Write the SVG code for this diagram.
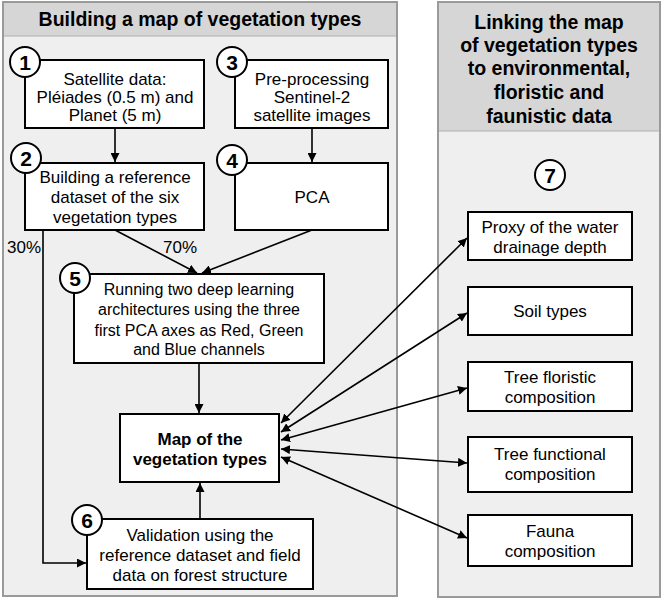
<svg xmlns="http://www.w3.org/2000/svg" width="662" height="599" viewBox="0 0 662 599">
<defs>
<style>
.panel{fill:#efefef;stroke:#9a9a9a;stroke-width:2}
.head{fill:#d6d6d6}
.box{fill:#fff;stroke:#000;stroke-width:2}
.num{fill:#fff;stroke:#000;stroke-width:2}
.t{font-family:"Liberation Sans",Arial,sans-serif;font-size:17px;fill:#000;text-anchor:middle}
.s{font-size:16px}
.b{font-weight:bold}
.h{font-family:"Liberation Sans",Arial,sans-serif;font-weight:bold;fill:#000;text-anchor:middle}
.n{font-family:"Liberation Sans",Arial,sans-serif;font-weight:bold;font-size:21px;fill:#000;text-anchor:middle}
.c{fill:none;stroke:#000;stroke-width:1.6}
</style>
<marker id="ah" viewBox="0 0 10 10" refX="10" refY="5" markerWidth="9" markerHeight="9" markerUnits="userSpaceOnUse" orient="auto-start-reverse">
<path d="M0,0 L10,5 L0,10 z" fill="#000"/>
</marker>
</defs>
<rect width="662" height="599" fill="#fff"/>
<g id="panel-left">
<rect class="panel" x="3" y="2" width="394" height="594"/>
<rect class="head" x="4" y="3" width="392" height="33"/>
<line x1="4" y1="36" x2="396" y2="36" stroke="#b0b0b0" stroke-width="1"/>
<text class="h" x="200" y="26" font-size="19.5">Building a map of vegetation types</text>
</g>
<g id="panel-right">
<rect class="panel" x="438" y="2" width="222" height="595"/>
<rect class="head" x="439" y="3" width="220" height="128"/>
<line x1="439" y1="131" x2="659" y2="131" stroke="#b0b0b0" stroke-width="1"/>
<text class="h" font-size="19.5"><tspan x="549" y="29">Linking the map</tspan><tspan x="549" y="52">of vegetation types</tspan><tspan x="549" y="75">to environmental,</tspan><tspan x="549" y="99">floristic and</tspan><tspan x="549" y="123">faunistic data</tspan></text>
</g>
<g id="connectors">
<line class="c" x1="115" y1="128" x2="115" y2="162" marker-end="url(#ah)"/>
<line class="c" x1="312" y1="128" x2="312" y2="162" marker-end="url(#ah)"/>
<line class="c" x1="115" y1="230" x2="197" y2="273" marker-end="url(#ah)"/>
<line class="c" x1="312" y1="230" x2="202" y2="273" marker-end="url(#ah)"/>
<line class="c" x1="199" y1="363" x2="199" y2="413" marker-end="url(#ah)"/>
<line class="c" x1="200" y1="519" x2="200" y2="483" marker-end="url(#ah)"/>
<polyline class="c" points="43,230 43,563 86,563" marker-end="url(#ah)"/>
<line class="c" x1="281" y1="423" x2="467" y2="238" marker-start="url(#ah)" marker-end="url(#ah)"/>
<line class="c" x1="281" y1="432" x2="467" y2="313" marker-start="url(#ah)" marker-end="url(#ah)"/>
<line class="c" x1="281" y1="440" x2="467" y2="388" marker-start="url(#ah)" marker-end="url(#ah)"/>
<line class="c" x1="281" y1="449" x2="467" y2="463" marker-start="url(#ah)" marker-end="url(#ah)"/>
<line class="c" x1="281" y1="457" x2="467" y2="538" marker-start="url(#ah)" marker-end="url(#ah)"/>
<text class="t" x="24" y="253">30%</text>
<text class="t" x="180" y="253">70%</text>
</g>
<g id="node1">
<rect class="box" x="25" y="60" width="179" height="68"/>
<circle class="num" cx="25" cy="62" r="15"/>
<text class="n" x="25" y="69.5">1</text>
<text class="t"><tspan x="115" y="85">Satellite data:</tspan><tspan x="115" y="103">Pléiades (0.5 m) and</tspan><tspan x="115" y="121">Planet (5 m)</tspan></text>
</g>
<g id="node3">
<rect class="box" x="235" y="60" width="153" height="68"/>
<circle class="num" cx="232" cy="62" r="15"/>
<text class="n" x="232" y="69.5">3</text>
<text class="t"><tspan x="312" y="85">Pre-processing</tspan><tspan x="312" y="103">Sentinel-2</tspan><tspan x="312" y="121">satellite images</tspan></text>
</g>
<g id="node2">
<rect class="box" x="25" y="163" width="179" height="67"/>
<circle class="num" cx="26" cy="158" r="15"/>
<text class="n" x="26" y="165.5">2</text>
<text class="t"><tspan x="115" y="183">Building a reference</tspan><tspan x="115" y="203">dataset of the six</tspan><tspan x="115" y="223">vegetation types</tspan></text>
</g>
<g id="node4">
<rect class="box" x="235" y="163" width="153" height="67"/>
<circle class="num" cx="232" cy="160" r="15"/>
<text class="n" x="232" y="167.5">4</text>
<text class="t" x="312" y="203">PCA</text>
</g>
<g id="node5">
<rect class="box" x="74" y="274" width="250" height="89"/>
<circle class="num" cx="75" cy="278" r="15"/>
<text class="n" x="75" y="285.5">5</text>
<text class="t s"><tspan x="199" y="295">Running two deep learning</tspan><tspan x="199" y="315">architectures using the three</tspan><tspan x="199" y="336">first PCA axes as Red, Green</tspan><tspan x="199" y="355">and Blue channels</tspan></text>
</g>
<g id="map">
<rect class="box" x="120" y="414" width="159" height="68"/>
<text class="t b"><tspan x="200" y="445">Map of the</tspan><tspan x="200" y="465">vegetation types</tspan></text>
</g>
<g id="node6">
<rect class="box" x="87" y="519" width="226" height="70"/>
<circle class="num" cx="87" cy="520" r="15"/>
<text class="n" x="87" y="527.5">6</text>
<text class="t"><tspan x="200" y="541">Validation using the</tspan><tspan x="200" y="561">reference dataset and field</tspan><tspan x="200" y="581">data on forest structure</tspan></text>
</g>
<g id="node7">
<circle class="num" cx="550" cy="175" r="15"/>
<text class="n" x="550" y="182.5">7</text>
</g>
<g id="proxy">
<rect class="box" x="468" y="212" width="164" height="48"/>
<text class="t"><tspan x="550" y="233">Proxy of the water</tspan><tspan x="550" y="253">drainage depth</tspan></text>
</g>
<g id="soil">
<rect class="box" x="468" y="287" width="164" height="48"/>
<text class="t" x="550" y="317">Soil types</text>
</g>
<g id="floristic">
<rect class="box" x="468" y="362" width="164" height="49"/>
<text class="t"><tspan x="550" y="383">Tree floristic</tspan><tspan x="550" y="403">composition</tspan></text>
</g>
<g id="functional">
<rect class="box" x="468" y="437" width="164" height="55"/>
<text class="t"><tspan x="550" y="460">Tree functional</tspan><tspan x="550" y="480">composition</tspan></text>
</g>
<g id="fauna">
<rect class="box" x="468" y="515" width="164" height="51"/>
<text class="t"><tspan x="550" y="537">Fauna</tspan><tspan x="550" y="557">composition</tspan></text>
</g>
</svg>
